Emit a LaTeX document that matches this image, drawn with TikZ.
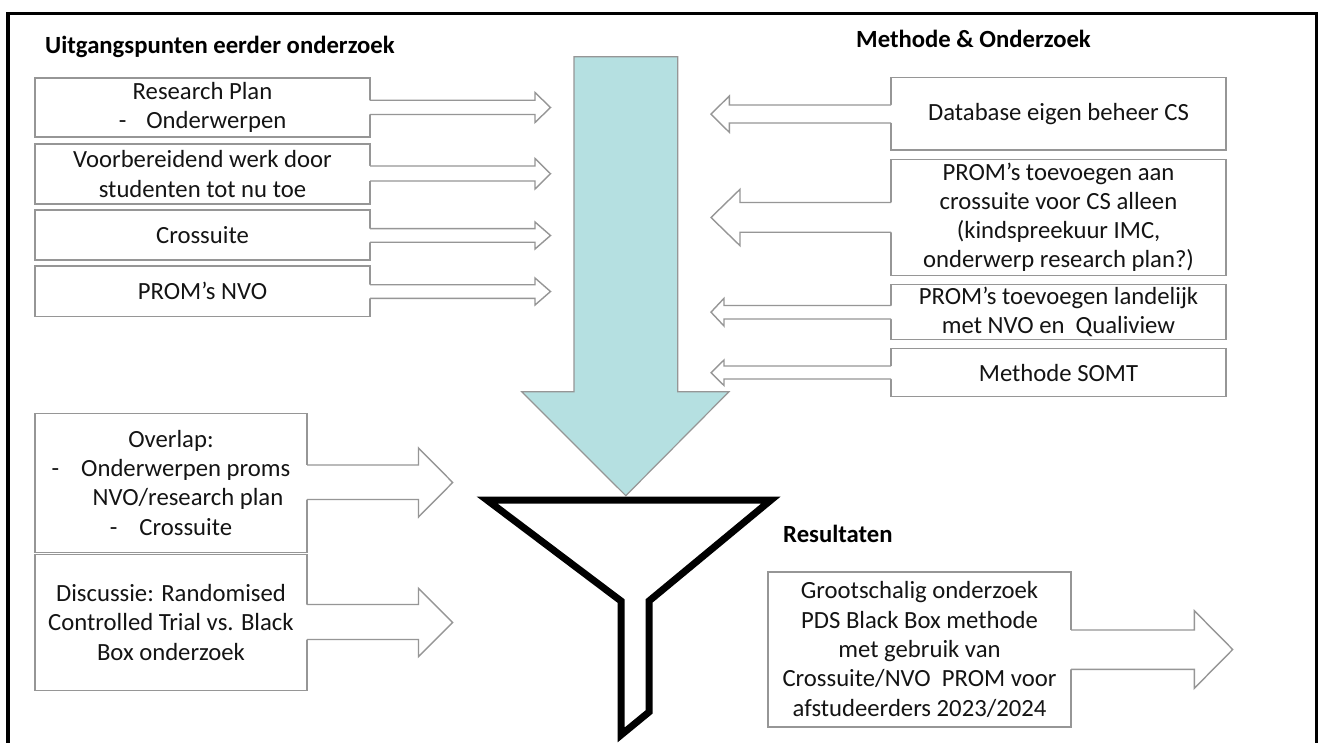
\documentclass[tikz,border=0pt]{standalone}
\usepackage{fontspec}
\setmainfont{Carlito}
\usetikzlibrary{calc}
\definecolor{bordergray}{HTML}{969696}
\definecolor{cyanfill}{HTML}{B5E0E1}
\definecolor{txt}{HTML}{141414}
\newcommand\harrow[8]{%
  \fill[white] ($(#1 |- 0,#3)+(#2,0)$) -- (#5,#3) -- (#5,#6) -- (#8,{(#6+#7)/2}) -- (#5,#7) -- (#5,#4) -- ($(#1 |- 0,#4)+(#2,0)$) -- cycle;
  \draw[arrline] (#1 |- 0,#3) -- (#5,#3) -- (#5,#6) -- (#8,{(#6+#7)/2}) -- (#5,#7) -- (#5,#4) -- (#1 |- 0,#4);
}
\begin{document}
\begin{tikzpicture}[x=1pt,y=-1pt,
  box/.style={draw=bordergray, line width=1.4pt, fill=white, inner sep=0pt, outer sep=0pt,
    align=center, font=\fontsize{24.7}{29.3}\selectfont, text=txt},
  ttl/.style={font=\fontsize{24.7}{29.3}\selectfont\bfseries, anchor=west, inner sep=0pt, text=black},
  arrline/.style={draw=bordergray, line width=1.4pt, line join=miter},
]
\useasboundingbox[fill=white] (0,0) rectangle (1321,743);

% frame
\draw[line width=3.5pt, line join=miter] (8,745) -- (8,13.3) -- (1316.5,13.3) -- (1316.5,745);

% titles
\node[ttl] (t1) at (45,47) {Uitgangspunten eerder onderzoek};
\node[ttl] (t2) at (856,38.5) {Methode \& Onderzoek};
\node[ttl] (t3) at (783,534) {Resultaten};

% big cyan arrow
\draw[fill=cyanfill, draw=bordergray, line width=1.2pt, line join=miter]
  (574,56.7) -- (677.7,56.7) -- (677.7,391.7) -- (729,391.7) -- (625.8,495.7) -- (521.7,391.7) -- (574,391.7) -- cycle;

% funnel
\draw[line width=7pt, line join=miter, miter limit=12]
  (487,500) -- (771,500) -- (649,601) -- (649,712) -- (621,735) -- (621,601) -- cycle;

% left boxes
\node[box, minimum width=335, minimum height=59] (b1) at (202.5,107.5) {Research Plan\\-\hspace{20pt}Onderwerpen};
\node[box, minimum width=335, minimum height=60] (b2) at (202.5,174) {Voorbereidend werk door\\studenten tot nu toe};
\node[box, minimum width=335, minimum height=50] (b3) at (202.5,235) {Crossuite};
\node[box, minimum width=335, minimum height=50.7] (b4) at (202.5,291.3) {PROM’s NVO};

% right boxes
\node[box, minimum width=335, minimum height=72.3] (r1) at (1058.5,113.9) {Database eigen beheer CS};
\node[box, minimum width=335, minimum height=116] (r2) at (1058.5,217.3) {PROM’s toevoegen aan\\crossuite voor CS alleen\\(kindspreekuur IMC,\\onderwerp research plan?)};
\node[box, minimum width=335, minimum height=55] (r3) at (1058.5,311.8) {PROM’s toevoegen landelijk\\met NVO en\ \ Qualiview};
\node[box, minimum width=335, minimum height=48] (r4) at (1058.5,372.6) {Methode SOMT};

% lower left boxes
\node[box, minimum width=272, minimum height=139] (l5) at (171,482.7) {Overlap:\\-\hspace{22pt}Onderwerpen proms\\\hspace*{34pt}NVO/research plan\\-\hspace{22pt}Crossuite};
\node[box, minimum width=272, minimum height=136] (l6) at (171,622.5) {Discussie: Randomised\\Controlled Trial vs. Black\\Box onderzoek};

% result box
\node[box, minimum width=303, minimum height=155] (res) at (919.5,649.5) {Grootschalig onderzoek\\PDS Black Box methode\\met gebruik van\\Crossuite/NVO\ \ PROM voor\\afstudeerders 2023/2024};

% block arrows, left column -> centre
\harrow{b1.east}{-2}{100.3}{114.5}{535}{92.5}{122.5}{550.5}
\harrow{b2.east}{-2}{166}{181}{535}{158.5}{189}{550.5}
\harrow{b3.east}{-2}{228.7}{242.3}{535}{222}{249}{550.5}
\harrow{b4.east}{-2}{284.7}{298.3}{535}{278}{305}{550.5}

% block arrows, right column -> centre
\harrow{r1.west}{2}{105}{123}{729.3}{96}{132.3}{711}
\harrow{r2.west}{2}{202.5}{232.3}{740}{189.3}{245.7}{711}
\harrow{r3.west}{2}{305.5}{319}{724}{298.3}{326}{711}
\harrow{r4.west}{2}{366}{379}{724}{360}{385.5}{711}

% lower left arrows
\harrow{l5.east}{-2}{465}{499.5}{418.5}{448}{517}{452.7}
\harrow{l6.east}{-2}{604.5}{639.5}{418.5}{588.3}{656.7}{452.7}

% result arrow
\harrow{res.east}{-2}{630}{669.3}{1194.3}{610.7}{688.3}{1232.7}
\end{tikzpicture}
\end{document}
